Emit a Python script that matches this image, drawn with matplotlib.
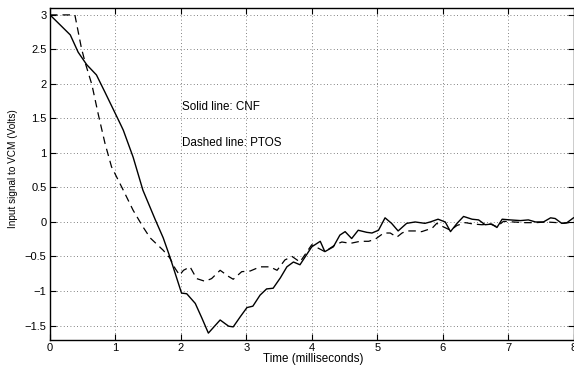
import numpy as np
import matplotlib
matplotlib.use('Agg')
import matplotlib.pyplot as plt

plt.rcParams['font.family'] = ['Liberation Sans', 'DejaVu Sans']

# CNF (solid line), time in ms / volts
cnf_t = [0, 0.15, 0.31, 0.43, 0.56, 0.71, 0.84, 1.07, 1.12, 1.27, 1.42, 1.61, 1.73,
         1.83, 2.01, 2.09, 2.22, 2.32, 2.42, 2.6, 2.73, 2.8, 2.91, 3.01, 3.1, 3.21,
         3.31, 3.41, 3.52, 3.62, 3.72, 3.82, 4.0, 4.13, 4.2, 4.33, 4.43, 4.51, 4.61,
         4.71, 4.84, 4.92, 5.02, 5.12, 5.22, 5.32, 5.45, 5.58, 5.73, 5.81, 5.93,
         6.04, 6.12, 6.22, 6.32, 6.45, 6.55, 6.65, 6.75, 6.83, 6.91, 7.03, 7.19,
         7.31, 7.42, 7.54, 7.65, 7.72, 7.82, 7.9, 8.0]
cnf_v = [3.0, 2.86, 2.71, 2.46, 2.28, 2.13, 1.88, 1.43, 1.33, 0.94, 0.46, 0.03, -0.23,
         -0.5, -1.03, -1.04, -1.18, -1.39, -1.61, -1.42, -1.51, -1.52, -1.37, -1.24, -1.22, -1.06,
         -0.97, -0.96, -0.81, -0.65, -0.58, -0.62, -0.36, -0.28, -0.43, -0.36, -0.19, -0.14, -0.24,
         -0.12, -0.15, -0.16, -0.12, 0.06, -0.02, -0.13, -0.02, 0.0, -0.02, 0.0, 0.04,
         0.0, -0.14, -0.02, 0.08, 0.04, 0.03, -0.04, -0.03, -0.08, 0.04, 0.03, 0.02,
         0.03, 0.0, 0.0, 0.06, 0.05, -0.02, -0.01, 0.06]

# PTOS (dashed line)
ptos_t = [0, 0.38, 0.48, 0.54, 0.64, 0.74, 0.84, 0.94, 1.12, 1.27, 1.42, 1.53, 1.73,
          1.83, 1.91, 1.98, 2.04, 2.14, 2.24, 2.37, 2.47, 2.6, 2.73, 2.8, 2.93, 3.06,
          3.21, 3.36, 3.47, 3.59, 3.7, 3.82, 4.0, 4.1, 4.2, 4.36, 4.46, 4.59, 4.74,
          4.87, 4.97, 5.1, 5.2, 5.3, 5.38, 5.45, 5.58, 5.68, 5.84, 5.91, 6.01, 6.12,
          6.22, 6.35, 6.47, 6.6, 6.73, 6.83, 6.93, 7.08, 7.26, 7.42, 7.59, 7.75,
          7.85, 8.0]
ptos_v = [3.0, 3.0, 2.52, 2.3, 1.99, 1.55, 1.14, 0.8, 0.46, 0.17, -0.07, -0.23, -0.41,
          -0.52, -0.67, -0.77, -0.7, -0.65, -0.82, -0.86, -0.82, -0.7, -0.79, -0.83, -0.72, -0.71,
          -0.65, -0.65, -0.7, -0.55, -0.5, -0.58, -0.33, -0.38, -0.43, -0.33, -0.29, -0.31, -0.28,
          -0.28, -0.25, -0.16, -0.16, -0.22, -0.16, -0.13, -0.13, -0.14, -0.09, -0.02, -0.07, -0.12,
          -0.05, -0.01, -0.03, -0.04, -0.03, -0.07, 0.01, 0.0, -0.01, -0.01, 0.0, -0.01,
          -0.02, 0.0]

xticks = [0, 1, 2, 3, 4, 5, 6, 7, 8]
yticks = [-1.5, -1, -0.5, 0, 0.5, 1, 1.5, 2, 2.5, 3]
ytick_labels = ['\u22121.5', '\u22121', '\u22120.5', '0', '0.5', '1', '1.5', '2', '2.5', '3']

fig = plt.figure(figsize=(5.74, 3.65), dpi=100)
ax = fig.add_axes([50 / 574, 1 - 340 / 365, 523.5 / 574, 332 / 365])

ax.plot(cnf_t, cnf_v, color='black', lw=1.0, linestyle='-')
ax.plot(ptos_t, ptos_v, color='black', lw=0.9, linestyle=(0, (6, 4)))

ax.set_xlim(0, 8)
ax.set_ylim(-1.71, 3.1)
ax.set_xticks(xticks)
ax.set_yticks(yticks)
ax.set_yticklabels(ytick_labels)
ax.tick_params(direction='in', length=4, width=0.8, labelsize=8,
               top=True, right=True)
ax.tick_params(axis='x', pad=2.5)
ax.tick_params(axis='y', pad=2.5)
for s in ax.spines.values():
    s.set_linewidth(1.0)

ax.grid(True, color='0.35', linestyle=(0, (1, 3)), lw=0.6)

ax.text(2.02, 1.67, 'Solid line: CNF', fontsize=8.4, va='center', ha='left')
ax.text(2.02, 1.14, 'Dashed line: PTOS', fontsize=8.4, va='center', ha='left')

ax.set_xlabel('Time (milliseconds)', fontsize=8.4)
ax.xaxis.set_label_coords(0.502, -0.038)
ax.set_ylabel('Input signal to VCM (Volts)', fontsize=7.2)
ax.yaxis.set_label_coords(-0.062, 0.515)

fig.savefig('out.png', dpi=100)
